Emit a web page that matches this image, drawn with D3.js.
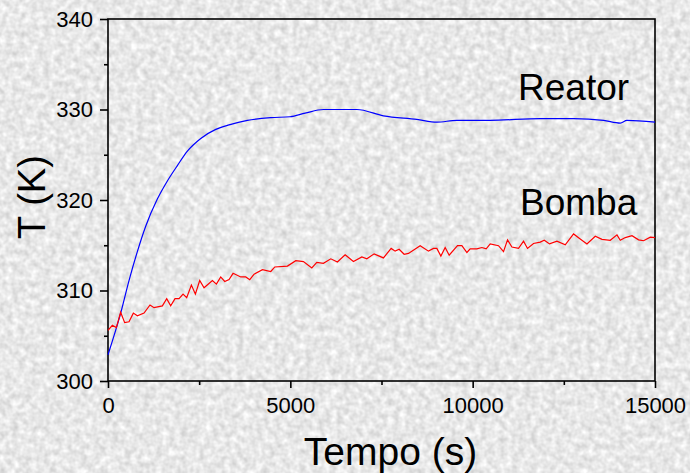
<!DOCTYPE html>
<html>
<head>
<meta charset="utf-8">
<script src="https://cdn.jsdelivr.net/npm/d3@7"></script>
<style>
  html, body { margin: 0; padding: 0; background: #e6e6e6; }
  svg { display: block; }
  text { font-family: "Liberation Sans", Arial, sans-serif; fill: #000; }
</style>
</head>
<body>
<svg id="chart"></svg>
<script>
// Reator (blue) - time (s) and temperature (K)
const reatorTime = [0, 347, 576, 805, 1034, 1353, 1628, 1902, 2177, 2544, 2955, 3320, 3823, 4464, 4993,
    5405, 5907, 6822, 7553, 8469, 9018, 9566, 10480, 11852, 12766, 13590, 14047, 14230, 15000];
const reatorTemp = [302.9, 307.5, 311.1, 314.3, 317.1, 320.1, 322.1, 323.8, 325.4, 326.8, 327.8, 328.3, 328.8, 329.1, 329.2,
    329.6, 330.0, 330.0, 329.3, 328.9, 328.6, 328.8, 328.8, 329.0, 329.0, 328.8, 328.5, 328.8, 328.6];

// Bomba (red)
const bombaTime = [0, 119, 229, 347, 457, 576, 695, 805, 988, 1152, 1262, 1491, 1610, 1719, 1838, 1948, 2058, 2158,
    2287, 2396, 2515, 2634, 2863, 2973, 3091, 3201, 3320, 3430, 3640, 3777, 3887, 4006, 4235, 4464, 4574, 4921,
    5150, 5359, 5589, 5726, 5907, 6110, 6291, 6503, 6730, 6961, 7098, 7298, 7553, 7765, 7874, 7984, 8121, 8239,
    8560, 8788, 8925, 9018, 9128, 9246, 9356, 9584, 9704, 9842, 9932, 10116, 10253, 10371, 10481, 10709, 10846,
    10956, 11076, 11258, 11395, 11504, 11669, 11853, 11963, 12108, 12311, 12539, 12767, 12931, 13134, 13362,
    13546, 13773, 13957, 14048, 14185, 14369, 14550, 14687, 14871, 15000];
const bombaTemp = [305.6, 306.15, 305.9, 307.6, 306.45, 306.55, 307.5, 307.2, 307.5, 308.4, 308.1, 308.3, 309.1, 308.3,
    309.1, 309.1, 309.6, 309.2, 310.6, 309.6, 311.1, 310.3, 311.1, 310.7, 311.5, 311.0, 311.2, 311.9, 311.5, 311.5,
    311.2, 311.8, 312.3, 312.1, 312.6, 312.7, 313.3, 313.2, 312.5, 313.1, 313.0, 313.5, 313.15, 313.95, 313.2, 313.7,
    313.5, 314.05, 313.6, 314.65, 314.35, 314.55, 314.0, 314.1, 314.95, 314.35, 314.65, 314.65, 313.8, 314.75, 313.9,
    314.95, 314.95, 314.2, 314.6, 314.6, 314.75, 314.6, 315.15, 314.95, 314.3, 315.6, 314.8, 314.65, 315.45, 314.65,
    315.2, 315.35, 315.55, 315.15, 315.45, 315.05, 316.25, 315.75, 315.15, 316.0, 315.65, 315.55, 316.15, 315.55,
    315.85, 316.05, 315.6, 315.5, 315.9, 315.85];

const xTicks = [0, 5000, 10000, 15000];
const xMinor = [2500, 7500, 12500];
const yTicks = [300, 310, 320, 330, 340];
const yMinor = [305, 315, 325, 335];

const width = 690, height = 473;
const margin = { top: 19, right: 35, bottom: 92, left: 108 };
const w = width - margin.left - margin.right;
const h = height - margin.top - margin.bottom;

const svg = d3.select("#chart")
    .attr("width", width)
    .attr("height", height);

// grainy grey background
const defs = svg.append("defs");
const filt = defs.append("filter")
    .attr("id", "grain")
    .attr("x", 0).attr("y", 0).attr("width", "100%").attr("height", "100%")
    .attr("color-interpolation-filters", "sRGB");
filt.append("feTurbulence")
    .attr("type", "fractalNoise")
    .attr("baseFrequency", 0.16)
    .attr("numOctaves", 2)
    .attr("seed", 3);
filt.append("feColorMatrix")
    .attr("type", "matrix")
    .attr("values", "0.26 0 0 0 0.78  0.26 0 0 0 0.78  0.26 0 0 0 0.78  0 0 0 0 1");
svg.append("rect")
    .attr("width", width)
    .attr("height", height)
    .attr("filter", "url(#grain)");

const g = svg.append("g")
    .attr("transform", `translate(${margin.left},${margin.top})`);

const x = d3.scaleLinear().domain([0, 15000]).range([0, w]);
const y = d3.scaleLinear().domain([300, 340]).range([h, 0]);

// minor ticks
g.append("g")
    .attr("transform", `translate(0,${h})`)
    .call(d3.axisBottom(x).tickValues(xMinor).tickSize(4).tickFormat(""))
    .call(a => a.select(".domain").remove())
    .selectAll("line").attr("stroke-width", 1.6);
g.append("g")
    .call(d3.axisLeft(y).tickValues(yMinor).tickSize(4).tickFormat(""))
    .call(a => a.select(".domain").remove())
    .selectAll("line").attr("stroke-width", 1.6);

// major ticks
const xAxis = g.append("g")
    .attr("transform", `translate(0,${h})`)
    .call(d3.axisBottom(x).tickValues(xTicks).tickSize(7).tickPadding(9).tickFormat(d3.format("d")))
    .call(a => a.select(".domain").remove());
xAxis.selectAll("line").attr("stroke-width", 1.6);
xAxis.selectAll("text")
    .style("font-size", "22px")
    .style("font-family", "'Liberation Sans', Arial, sans-serif");

const yAxis = g.append("g")
    .call(d3.axisLeft(y).tickValues(yTicks).tickSize(8).tickPadding(7).tickFormat(d3.format("d")))
    .call(a => a.select(".domain").remove());
yAxis.selectAll("line").attr("stroke-width", 1.6);
yAxis.selectAll("text")
    .style("font-size", "22px")
    .style("font-family", "'Liberation Sans', Arial, sans-serif");

// frame
g.append("rect")
    .attr("width", w)
    .attr("height", h)
    .attr("fill", "none")
    .attr("stroke", "#000")
    .attr("stroke-width", 1.6);

// lines
const lineR = d3.line()
    .x((d, i) => x(reatorTime[i]))
    .y(d => y(d))
    .curve(d3.curveMonotoneX);
const lineB = d3.line()
    .x((d, i) => x(bombaTime[i]))
    .y(d => y(d));

g.append("path")
    .datum(reatorTemp)
    .attr("d", lineR)
    .attr("fill", "none")
    .attr("stroke", "#0000ff")
    .attr("stroke-width", 1.2);

g.append("path")
    .datum(bombaTemp)
    .attr("d", lineB)
    .attr("fill", "none")
    .attr("stroke", "#ff0000")
    .attr("stroke-width", 1.2);

// labels
svg.append("text")
    .attr("x", 518)
    .attr("y", 100)
    .style("font-size", "37px")
    .text("Reator");

svg.append("text")
    .attr("x", 520)
    .attr("y", 215)
    .style("font-size", "37px")
    .text("Bomba");

svg.append("text")
    .attr("x", margin.left + w / 2 + 9)
    .attr("y", 465)
    .attr("text-anchor", "middle")
    .style("font-size", "39px")
    .text("Tempo (s)");

svg.append("text")
    .attr("transform", "translate(45,197) rotate(-90)")
    .attr("text-anchor", "middle")
    .style("font-size", "38px")
    .text("T (K)");
</script>
</body>
</html>
